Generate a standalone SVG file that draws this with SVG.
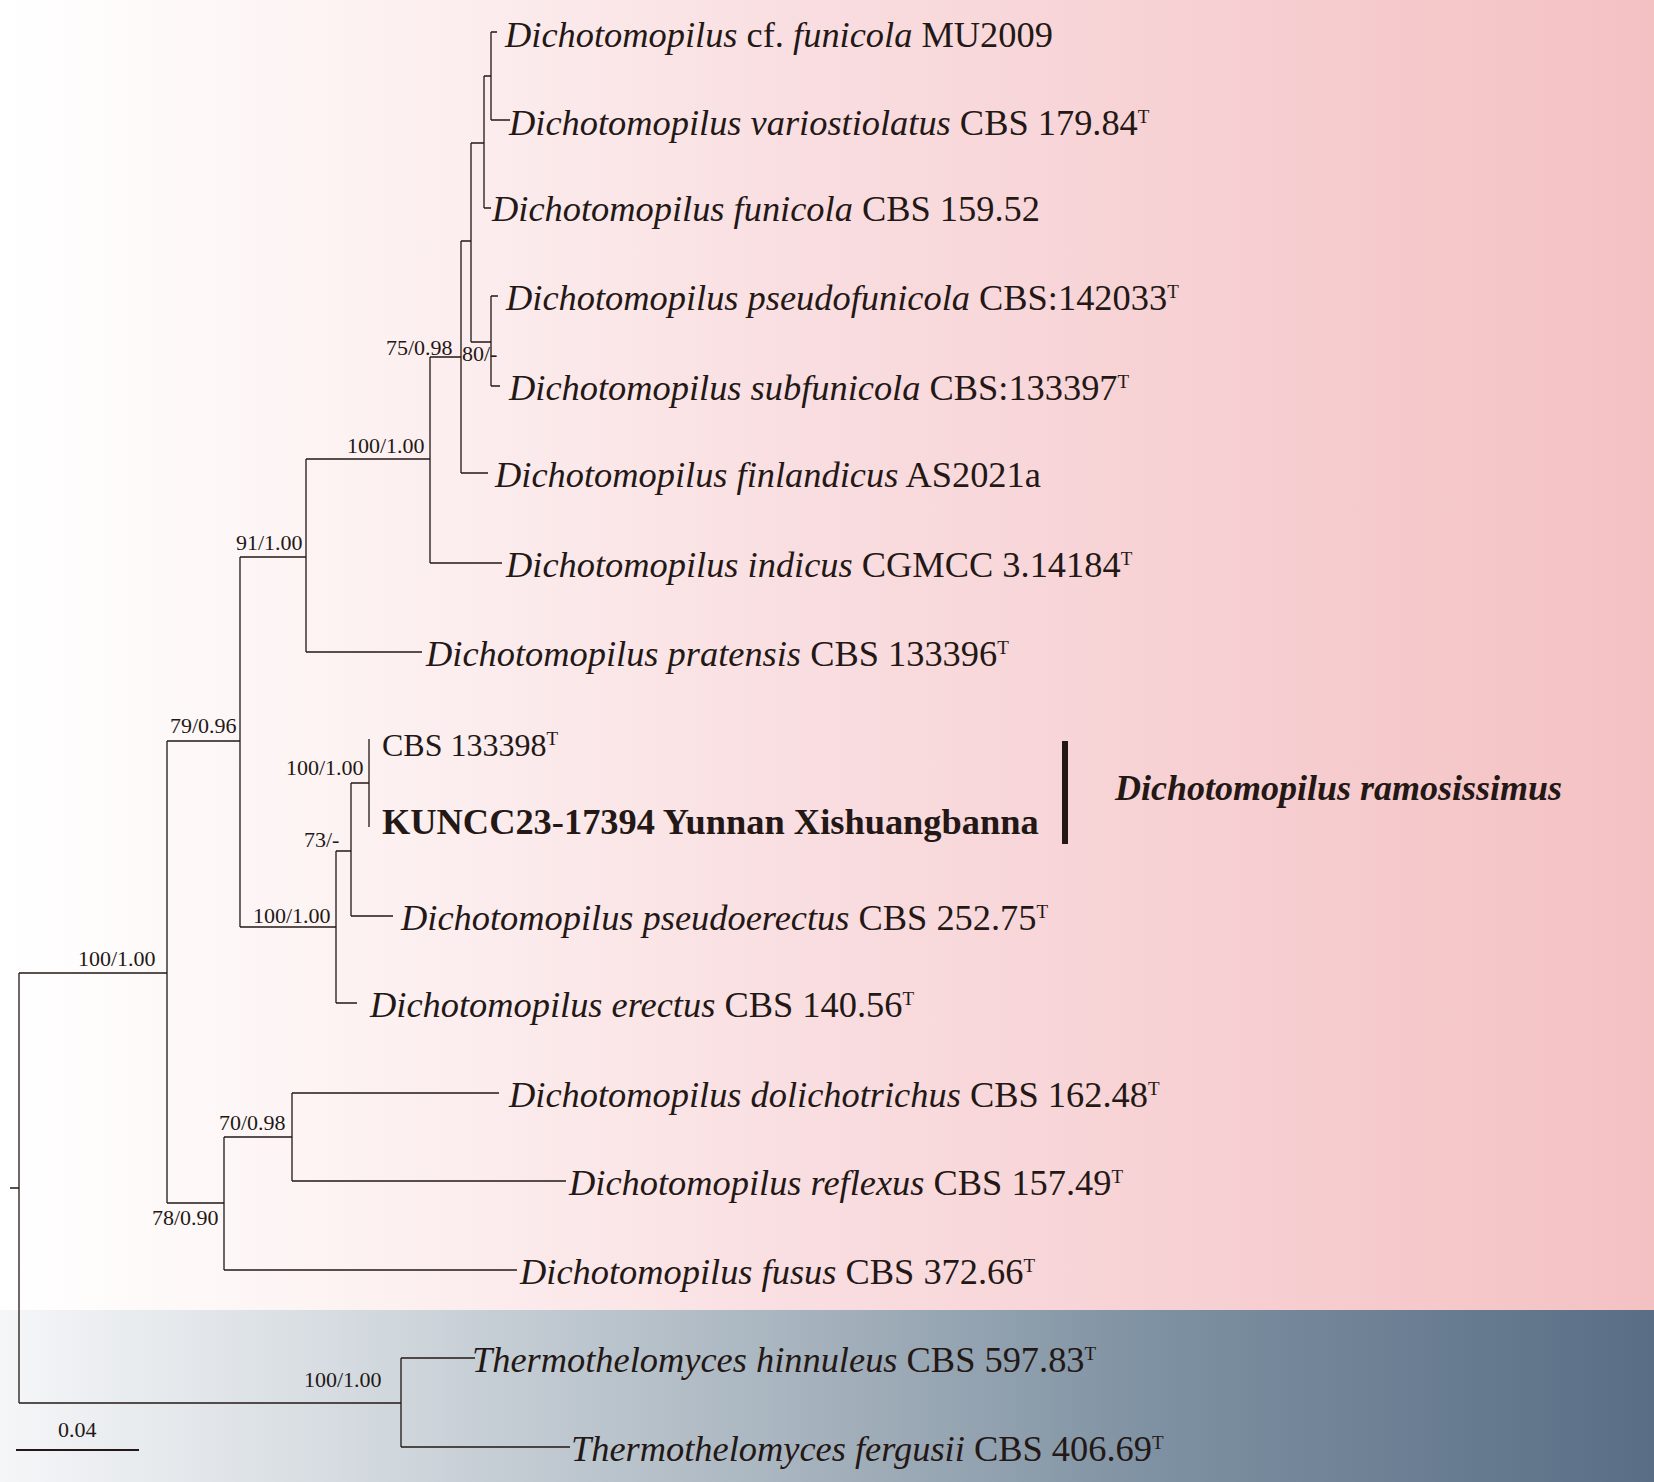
<svg xmlns="http://www.w3.org/2000/svg" width="1654" height="1482" viewBox="0 0 1654 1482">
<defs>
<linearGradient id="pink" x1="0" y1="0" x2="1" y2="0">
<stop offset="0" stop-color="#ffffff"/>
<stop offset="0.2" stop-color="#fdf3f3"/>
<stop offset="0.5" stop-color="#f9dde0"/>
<stop offset="1" stop-color="#f4c1c3"/>
</linearGradient>
<linearGradient id="grey" x1="0" y1="0" x2="1" y2="0">
<stop offset="0" stop-color="#f5f6f8"/>
<stop offset="0.2" stop-color="#d6dce1"/>
<stop offset="0.5" stop-color="#a4b1bc"/>
<stop offset="0.7" stop-color="#7e91a2"/>
<stop offset="1" stop-color="#596d85"/>
</linearGradient>
<style>
text{font-family:"Liberation Serif","Times New Roman",serif;fill:#231815;font-size:36.4px}
.i{font-style:italic}
.b{font-weight:bold}
.bi{font-weight:bold;font-style:italic;font-size:36px}
.s{font-size:19px}
.n{font-size:22px}
.r{font-size:32px}
.c path{stroke:#231815;stroke-width:1.3;fill:none}
</style>
</defs>
<rect x="0" y="0" width="1654" height="1310" fill="url(#pink)"/>
<rect x="0" y="1310" width="1654" height="172" fill="url(#grey)"/>
<g id="connectors" class="c">
<path d="M10,1188H19M19,973V1403M19,973H167M19,1403H401"/>
<path d="M167,741V1203M167,741H240M167,1203H224"/>
<path d="M240,557V927M240,557H306M240,927H336"/>
<path d="M306,459V652M306,459H430M306,652H422"/>
<path d="M430,357V563M430,357H461M430,563H502"/>
<path d="M461,241V473M461,241H471M461,473H488"/>
<path d="M471,143V342M471,143H484M471,342H491"/>
<path d="M484,76V208M484,76H491M484,208H491"/>
<path d="M491,32V120M491,32H497M491,120H510"/>
<path d="M491,296V386M491,296H498M491,386H500"/>
<path d="M336,851V1003M336,851H351M336,1003H357"/>
<path d="M351,783V916M351,783H369M351,916H393"/>
<path d="M369,739V827"/>
<path d="M224,1137V1270M224,1137H292M224,1270H517"/>
<path d="M292,1093V1181M292,1093H499M292,1181H566"/>
<path d="M401,1358V1447M401,1358H475M401,1447H570"/>
</g>
<g id="node-labels">
<text class="n" x="386" y="355">75/0.98</text>
<text class="n" x="462" y="361">80/-</text>
<text class="n" x="347" y="453">100/1.00</text>
<text class="n" x="236" y="550">91/1.00</text>
<text class="n" x="170" y="733">79/0.96</text>
<text class="n" x="286" y="775">100/1.00</text>
<text class="n" x="304" y="847">73/-</text>
<text class="n" x="253" y="923">100/1.00</text>
<text class="n" x="78" y="966">100/1.00</text>
<text class="n" x="219" y="1130">70/0.98</text>
<text class="n" x="152" y="1225">78/0.90</text>
<text class="n" x="304" y="1387">100/1.00</text>
</g>
<g id="scale-bar">
<path d="M16,1450H139" stroke="#231815" stroke-width="2"/>
<text class="n" x="58" y="1437">0.04</text>
</g>
<g id="tip-cf-funicola"><text x="505" y="47"><tspan class="i">Dichotomopilus</tspan> cf. <tspan class="i">funicola</tspan> MU2009</text></g>
<g id="tip-variostiolatus"><text x="509" y="135"><tspan class="i">Dichotomopilus variostiolatus</tspan> CBS 179.84<tspan class="s" dy="-12">T</tspan></text></g>
<g id="tip-funicola"><text x="492" y="221"><tspan class="i">Dichotomopilus funicola</tspan> CBS 159.52</text></g>
<g id="tip-pseudofunicola"><text x="506" y="310"><tspan class="i">Dichotomopilus pseudofunicola</tspan> CBS:142033<tspan class="s" dy="-12">T</tspan></text></g>
<g id="tip-subfunicola"><text x="509" y="400"><tspan class="i">Dichotomopilus subfunicola</tspan> CBS:133397<tspan class="s" dy="-12">T</tspan></text></g>
<g id="tip-finlandicus"><text x="495" y="487"><tspan class="i">Dichotomopilus finlandicus</tspan> AS2021a</text></g>
<g id="tip-indicus"><text x="506" y="577"><tspan class="i">Dichotomopilus indicus</tspan> CGMCC 3.14184<tspan class="s" dy="-12">T</tspan></text></g>
<g id="tip-pratensis"><text x="426" y="666"><tspan class="i">Dichotomopilus pratensis</tspan> CBS 133396<tspan class="s" dy="-12">T</tspan></text></g>
<g id="tip-cbs133398"><text class="r" x="382" y="756">CBS 133398<tspan class="s" dy="-11">T</tspan></text></g>
<g id="tip-kuncc"><text class="b" x="382" y="834">KUNCC23-17394 Yunnan Xishuangbanna</text></g>
<g id="tip-pseudoerectus"><text x="401" y="930"><tspan class="i">Dichotomopilus pseudoerectus</tspan> CBS 252.75<tspan class="s" dy="-12">T</tspan></text></g>
<g id="tip-erectus"><text x="370" y="1017"><tspan class="i">Dichotomopilus erectus</tspan> CBS 140.56<tspan class="s" dy="-12">T</tspan></text></g>
<g id="tip-dolichotrichus"><text x="509" y="1107"><tspan class="i">Dichotomopilus dolichotrichus</tspan> CBS 162.48<tspan class="s" dy="-12">T</tspan></text></g>
<g id="tip-reflexus"><text x="569" y="1195"><tspan class="i">Dichotomopilus reflexus</tspan> CBS 157.49<tspan class="s" dy="-12">T</tspan></text></g>
<g id="tip-fusus"><text x="520" y="1284"><tspan class="i">Dichotomopilus fusus</tspan> CBS 372.66<tspan class="s" dy="-12">T</tspan></text></g>
<g id="tip-hinnuleus"><text x="472" y="1372"><tspan class="i">Thermothelomyces hinnuleus</tspan> CBS 597.83<tspan class="s" dy="-12">T</tspan></text></g>
<g id="tip-fergusii"><text x="571" y="1461"><tspan class="i">Thermothelomyces fergusii</tspan> CBS 406.69<tspan class="s" dy="-12">T</tspan></text></g>
<g id="clade-ramosissimus">
<rect x="1062" y="741" width="6" height="103" fill="#231815"/>
<text class="bi" x="1115" y="800">Dichotomopilus ramosissimus</text>
</g>
</svg>
